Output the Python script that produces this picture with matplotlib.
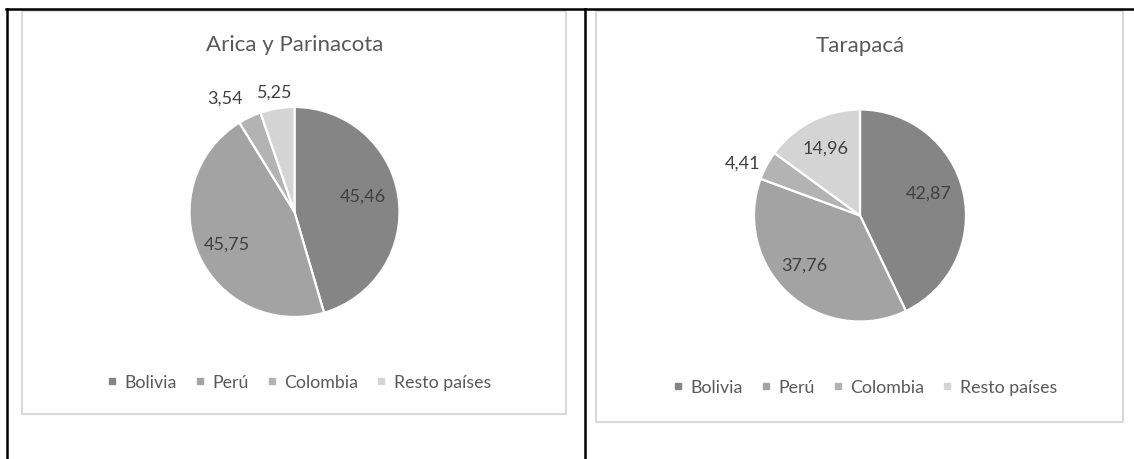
import matplotlib.pyplot as plt
from matplotlib.lines import Line2D
from matplotlib.patches import Rectangle
import numpy as np

plt.rcParams['font.family'] = ['Lato', 'DejaVu Sans']

# ---- data ----
countries = ['Bolivia', 'Perú', 'Colombia', 'Resto países']
regions = ['Arica y Parinacota', 'Tarapacá']
arica_vals = [45.46, 45.75, 3.54, 5.25]
tarapaca_vals = [42.87, 37.76, 4.41, 14.96]

colors = ['#858585', '#a3a3a3', '#b3b3b3', '#d4d4d4']

W, H = 1134, 460
fig = plt.figure(figsize=(W / 100, H / 100), dpi=100)
fig.patch.set_facecolor('white')


def fx(x):
    return x / W


def fy(y):
    return 1 - y / H


# table lines around the two charts
for xs, ys in [([6, W], [10, 10]), ([7, 7], [10, H]), ([585, 585], [10, H])]:
    fig.add_artist(Line2D([fx(v) for v in xs], [fy(v) for v in ys],
                          color='black', lw=1.8))

# chart areas: (left, top, right, bottom) in px
boxes = [(22, 12, 566, 415), (596, 12, 1123, 423)]
for l, t, r, b in boxes:
    fig.add_artist(Rectangle((fx(l), fy(b)), fx(r - l), (b - t) / H,
                             facecolor='none', edgecolor='#d9d9d9', lw=1.5))

# per-chart layout (px): pie centre, radius, title y, legend centre
layouts = [
    dict(cx=294.5, cy=213, r=105, title_y=45, leg=(299, 383)),
    dict(cx=860, cy=216.5, r=106, title_y=46, leg=(865, 388)),
]
# label placement: distance (fraction of radius) and angle nudge (deg)
label_dist = [[0.67, 0.71, 1.28, 1.16], [0.68, 0.70, 1.22, 0.715]]
label_nudge = [[5, 1.5, 6, 0], [6, -6, 4, 0]]

S = 150  # half-size of the pie axes in px
for vals, title, lay, dists, nudges in zip([arica_vals, tarapaca_vals], regions,
                                           layouts, label_dist, label_nudge):
    cx, cy, r = lay['cx'], lay['cy'], lay['r']
    ax = fig.add_axes([fx(cx - S), fy(cy + S), 2 * S / W, 2 * S / H])
    wedges, _ = ax.pie(vals, colors=colors, startangle=90, counterclock=False,
                       radius=r, wedgeprops=dict(edgecolor='white', linewidth=1.6))
    ax.set_xlim(-S, S)
    ax.set_ylim(-S, S)
    ax.set_aspect('equal')
    ax.axis('off')

    for w, v, d, n in zip(wedges, vals, dists, nudges):
        mid = np.deg2rad((w.theta1 + w.theta2) / 2 + n)
        ax.text(d * r * np.cos(mid), d * r * np.sin(mid),
                f'{v:.2f}'.replace('.', ','), ha='center', va='center',
                fontsize=13, color='#404040')

    fig.text(fx(cx), fy(lay['title_y']), title, ha='center', va='center',
             fontsize=16, color='#595959')

    handles = [Line2D([], [], marker='s', linestyle='none', markersize=4.5,
                      markerfacecolor=c, markeredgecolor=c) for c in colors]
    lx, ly = lay['leg']
    fig.legend(handles, countries, loc='center', bbox_to_anchor=(fx(lx), fy(ly)),
               ncol=4, frameon=False, fontsize=12.8, labelcolor='#595959',
               handlelength=0.5, handletextpad=0.45, columnspacing=1.05,
               borderpad=0)

fig.savefig('out.png', dpi=100)
